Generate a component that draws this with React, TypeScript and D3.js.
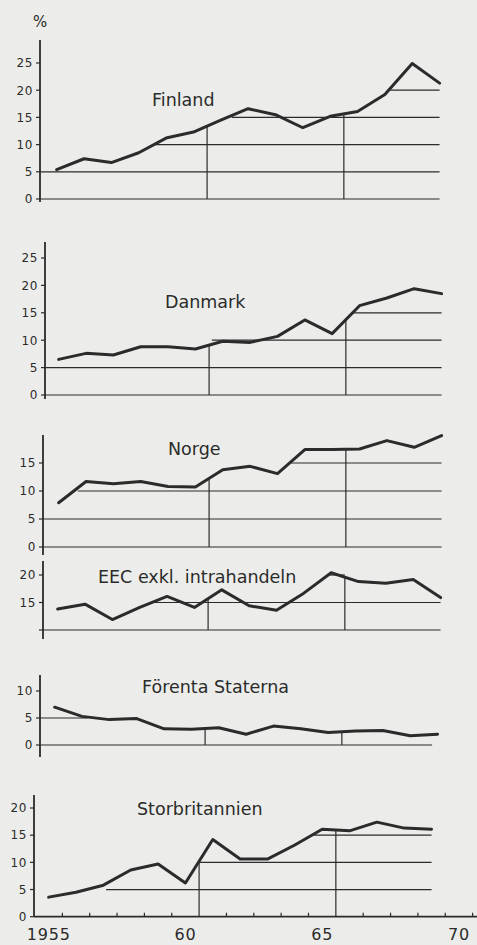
import React from "react";
import * as d3 from "d3";

// years of the observations (one point per year, drawn mid-year)
const years = [1955, 1956, 1957, 1958, 1959, 1960, 1961, 1962, 1963, 1964, 1965, 1966, 1967, 1968, 1969];

// series values, %
const finland = [5.4, 7.4, 6.7, 8.5, 11.2, 12.3, 14.5, 16.6, 15.5, 13.1, 15.2, 16.1, 19.2, 24.9, 21.3];
const danmark = [6.5, 7.6, 7.3, 8.8, 8.8, 8.4, 9.8, 9.6, 10.7, 13.7, 11.2, 16.3, 17.7, 19.4, 18.5];
const norge = [7.9, 11.7, 11.3, 11.7, 10.8, 10.7, 13.8, 14.4, 13.1, 17.4, 17.4, 17.5, 19.0, 17.8, 19.9];
const eec = [13.8, 14.7, 11.9, 14.1, 16.1, 14.1, 17.3, 14.4, 13.6, 16.7, 20.4, 18.8, 18.5, 19.2, 15.9];
const forentaStaterna = [7.0, 5.3, 4.7, 4.9, 3.0, 2.9, 3.2, 2.0, 3.5, 3.0, 2.3, 2.6, 2.7, 1.7, 2.0];
const storbritannien = [3.6, 4.5, 5.8, 8.6, 9.7, 6.2, 14.2, 10.6, 10.6, 13.2, 16.1, 15.8, 17.4, 16.3, 16.1];

// y tick values; labelled ones and bare tick marks
const finlandTicks = [0, 5, 10, 15, 20, 25];
const danmarkTicks = [0, 5, 10, 15, 20, 25];
const norgeTicks = [0, 5, 10, 15];
const eecTicks = [10, 15, 20];
const eecLabels = [15, 20];
const usaTicks = [0, 5, 10];
const ukTicks = [0, 5, 10, 15, 20];

// horizontal guide lines: [level, from year, to year]
const finlandGrid = [[0, 1955, 1969.5], [5, 1955, 1969.5], [10, 1959.1, 1969.5], [15, 1961.9, 1969.5], [20, 1967.7, 1969.5]];
const danmarkGrid = [[0, 1955, 1969.5], [5, 1955, 1969.5], [10, 1961.1, 1969.5], [15, 1966.2, 1969.5]];
const norgeGrid = [[0, 1955, 1969.5], [5, 1955, 1969.5], [10, 1956.2, 1969.5], [15, 1964.0, 1969.5]];
const eecGrid = [[10, 1955, 1969.5], [15, 1959.0, 1969.5], [20, 1965.4, 1966]];
const usaGrid = [[0, 1955, 1969.3], [5, 1955, 1956.7]];
const ukGrid = [[5, 1957.6, 1969.5], [10, 1961.0, 1969.5], [15, 1965.2, 1969.5]];

// vertical markers and x-axis labels
const markerYears = [1961, 1966];
const axisTickYears = [1956, 1957, 1958, 1959, 1960, 1962, 1963, 1964, 1965, 1967, 1968, 1969, 1970, 1971];
const axisLabels = [
  { year: 1955, text: "1955" },
  { year: 1960, text: "60" },
  { year: 1965, text: "65" },
  { year: 1970, text: "70" },
];

const W = 477;
const H = 945;
const INK = "#2b2b2b";
const FONT = "'DejaVu Sans', Verdana, sans-serif";

const x = d3.scaleLinear().domain([1955, 1971]).range([35, 472.6]);

const panels = [
  { name: "Finland", values: finland, ticks: finlandTicks, labels: finlandTicks, grid: finlandGrid,
    dx: 8, axisX: 40, domain: [0, 25], range: [199, 63], axisTop: 40, axisBottom: 202, lx: 152, ly: 106 },
  { name: "Danmark", values: danmark, ticks: danmarkTicks, labels: danmarkTicks, grid: danmarkGrid,
    dx: 10, axisX: 45, domain: [0, 25], range: [395, 258], axisTop: 242, axisBottom: 399, lx: 165, ly: 308 },
  { name: "Norge", values: norge, ticks: norgeTicks, labels: norgeTicks, grid: norgeGrid,
    dx: 10, axisX: 43, domain: [0, 15], range: [547, 463], axisTop: 435, axisBottom: 555, lx: 168, ly: 455 },
  { name: "EEC exkl. intrahandeln", values: eec, ticks: eecTicks, labels: eecLabels, grid: eecGrid,
    dx: 9, axisX: 43, domain: [10, 20], range: [630, 575], axisTop: 561, axisBottom: 639, lx: 98, ly: 583 },
  { name: "Förenta Staterna", values: forentaStaterna, ticks: usaTicks, labels: usaTicks, grid: usaGrid,
    dx: 6, axisX: 40, domain: [0, 10], range: [745, 691], axisTop: 675, axisBottom: 757, lx: 142, ly: 693 },
  { name: "Storbritannien", values: storbritannien, ticks: ukTicks, labels: ukTicks, grid: ukGrid,
    dx: 0, axisX: 34, domain: [0, 20], range: [916.7, 808], axisTop: 795, axisBottom: 916.7, lx: 137, ly: 815 },
];

// value of the polyline at a given (continuous) year
function valueAt(values: number[], t: number) {
  const pos = t - years[0] - 0.5;
  const i = Math.max(0, Math.min(values.length - 2, Math.floor(pos)));
  const f = pos - i;
  return values[i] + (values[i + 1] - values[i]) * f;
}

function Panel({ p, last }: { p: any; last: boolean }) {
  const y = d3.scaleLinear().domain(p.domain).range(p.range);
  const px = (t: number) => (t <= 1955 ? p.axisX : x(t) + p.dx);
  const line = d3.line<number>()
    .x((d, i) => x(years[i] + 0.5) + p.dx)
    .y((d) => y(d));

  return (
    <g>
      {/* guide lines */}
      {p.grid.map((g: number[], i: number) => (
        <line key={"g" + i} x1={px(g[1])} x2={px(g[2])} y1={y(g[0])} y2={y(g[0])}
          stroke={INK} strokeWidth={1.2} />
      ))}
      {/* vertical markers */}
      {markerYears.map((t) => (
        <line key={"m" + t} x1={px(t)} x2={px(t)} y1={y(p.domain[0])} y2={y(valueAt(p.values, t))}
          stroke={INK} strokeWidth={1.2} />
      ))}
      {/* y axis */}
      <line x1={p.axisX} x2={p.axisX} y1={p.axisTop} y2={p.axisBottom} stroke={INK} strokeWidth={1.8} />
      {p.ticks.map((t: number) => (
        <line key={"t" + t} x1={p.axisX - 4} x2={p.axisX} y1={y(t)} y2={y(t)} stroke={INK} strokeWidth={1.2} />
      ))}
      {p.labels.map((t: number) => (
        <text key={"l" + t} x={p.axisX - 7} y={y(t)} dy="0.36em" textAnchor="end"
          fontFamily={FONT} fontSize={12} letterSpacing={0.6} fill={INK}>{t}</text>
      ))}
      {/* series */}
      <path d={line(p.values) || ""} fill="none" stroke={INK} strokeWidth={3}
        strokeLinejoin="round" strokeLinecap="round" />
      <text x={p.lx} y={p.ly} fontFamily={FONT} fontSize={17.5} fill={INK}>{p.name}</text>
      {last && (
        <g>
          <line x1={p.axisX} x2={W} y1={y(0)} y2={y(0)} stroke={INK} strokeWidth={1.8} />
          {axisTickYears.map((t) => (
            <line key={"x" + t} x1={x(t)} x2={x(t)} y1={y(0)} y2={y(0) - 4} stroke={INK} strokeWidth={1.2} />
          ))}
          {axisLabels.map((a) => (
            <text key={a.text} x={x(a.year + 0.5)} y={940} textAnchor="middle"
              fontFamily={FONT} fontSize={16} letterSpacing={0.8} fill={INK}>{a.text}</text>
          ))}
        </g>
      )}
    </g>
  );
}

export default function App() {
  return (
    <div style={{ position: "absolute", left: 0, top: 0 }}>
      <svg width={W} height={H} style={{ display: "block" }}>
        <rect width={W} height={H} fill="#ecedea" />
        <text x={33} y={27} fontFamily={FONT} fontSize={15} fill={INK}>%</text>
        {panels.map((p, i) => (
          <Panel key={p.name} p={p} last={i === panels.length - 1} />
        ))}
      </svg>
    </div>
  );
}
